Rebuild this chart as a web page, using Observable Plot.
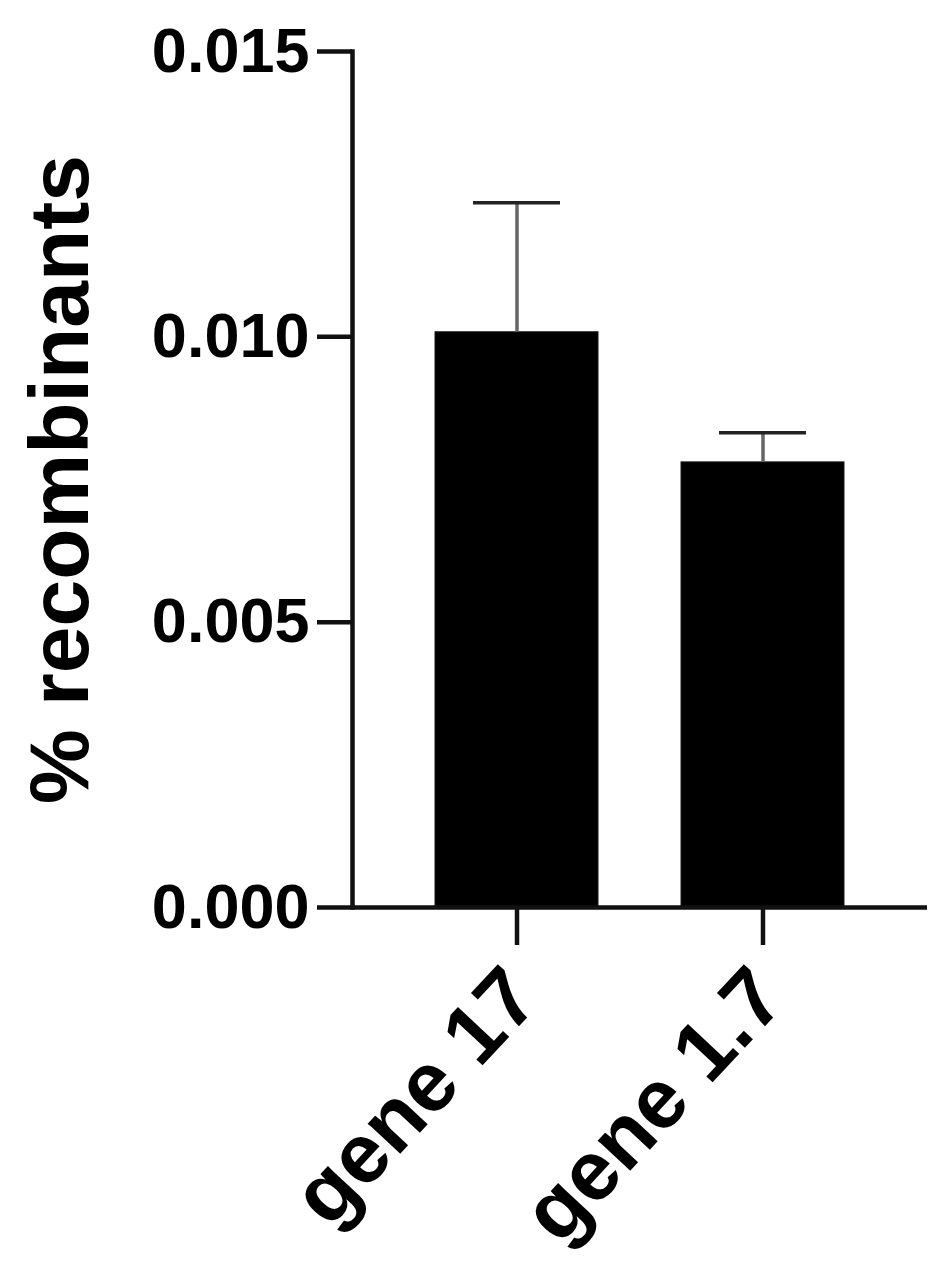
<!DOCTYPE html>
<html>
<head>
<meta charset="utf-8">
<script src="https://cdn.jsdelivr.net/npm/d3@7"></script>
<script src="https://cdn.jsdelivr.net/npm/@observablehq/plot@0.6"></script>
<style>
  html, body { margin: 0; padding: 0; background: #fff; }
</style>
</head>
<body>
<div id="chart"></div>
<script>
const genes = ["gene 17", "gene 1.7"];
const means = [0.01008, 0.00780];
const upperErrors = [0.01235, 0.00832];
const yTicks = [0, 0.005, 0.010, 0.015];
const yTitle = "% recombinants";

const data = genes.map((g, i) => ({gene: g, value: means[i], upper: upperErrors[i]}));

const font = "'Liberation Sans', Arial, Helvetica, sans-serif";

const chart = Plot.plot({
  width: 951,
  height: 1264,
  marginLeft: 352,
  marginRight: 24,
  marginTop: 51,
  marginBottom: 357,
  style: {fontFamily: font, fontWeight: "bold", color: "#000", background: "#fff"},
  x: {domain: genes, padding: 0.337, axis: null},
  y: {domain: [0, 0.015], axis: null},
  marks: [
    Plot.barY(data, {x: "gene", y: "value", fill: "#000", stroke: "#1a1a1a", strokeWidth: 1}),
    Plot.ruleX(data, {x: "gene", y1: "value", y2: "upper", stroke: "#666", strokeWidth: 3.5}),
    Plot.tickY(data, {x: "gene", y: "upper", stroke: "#222", strokeWidth: 3.5, insetLeft: 38, insetRight: 38}),
    Plot.axisY({ticks: yTicks, tickFormat: d3.format(".3f"), tickSize: 35, tickPadding: 8,
      strokeWidth: 4.5, stroke: "#111", fontSize: 63, fontWeight: "bold", label: null}),
    Plot.axisX({tickSize: 38, strokeWidth: 4.5, stroke: "#111", tickFormat: null, label: null}),
    Plot.text(genes, {x: d => d, frameAnchor: "bottom", dy: 75, dx: 6, rotate: -47,
      textAnchor: "end", lineAnchor: "middle", fontSize: 84, fontWeight: "bold", fill: "#000"}),
    Plot.ruleY([0], {stroke: "#111", strokeWidth: 4.5}),
    Plot.frame({anchor: "left", stroke: "#111", strokeWidth: 4.5}),
    Plot.text([yTitle], {frameAnchor: "left", dx: -291, rotate: -90, textAnchor: "middle",
      lineAnchor: "middle", fontSize: 84, fontWeight: "bold", fill: "#000"})
  ]
});
document.getElementById("chart").appendChild(chart);
</script>
</body>
</html>
